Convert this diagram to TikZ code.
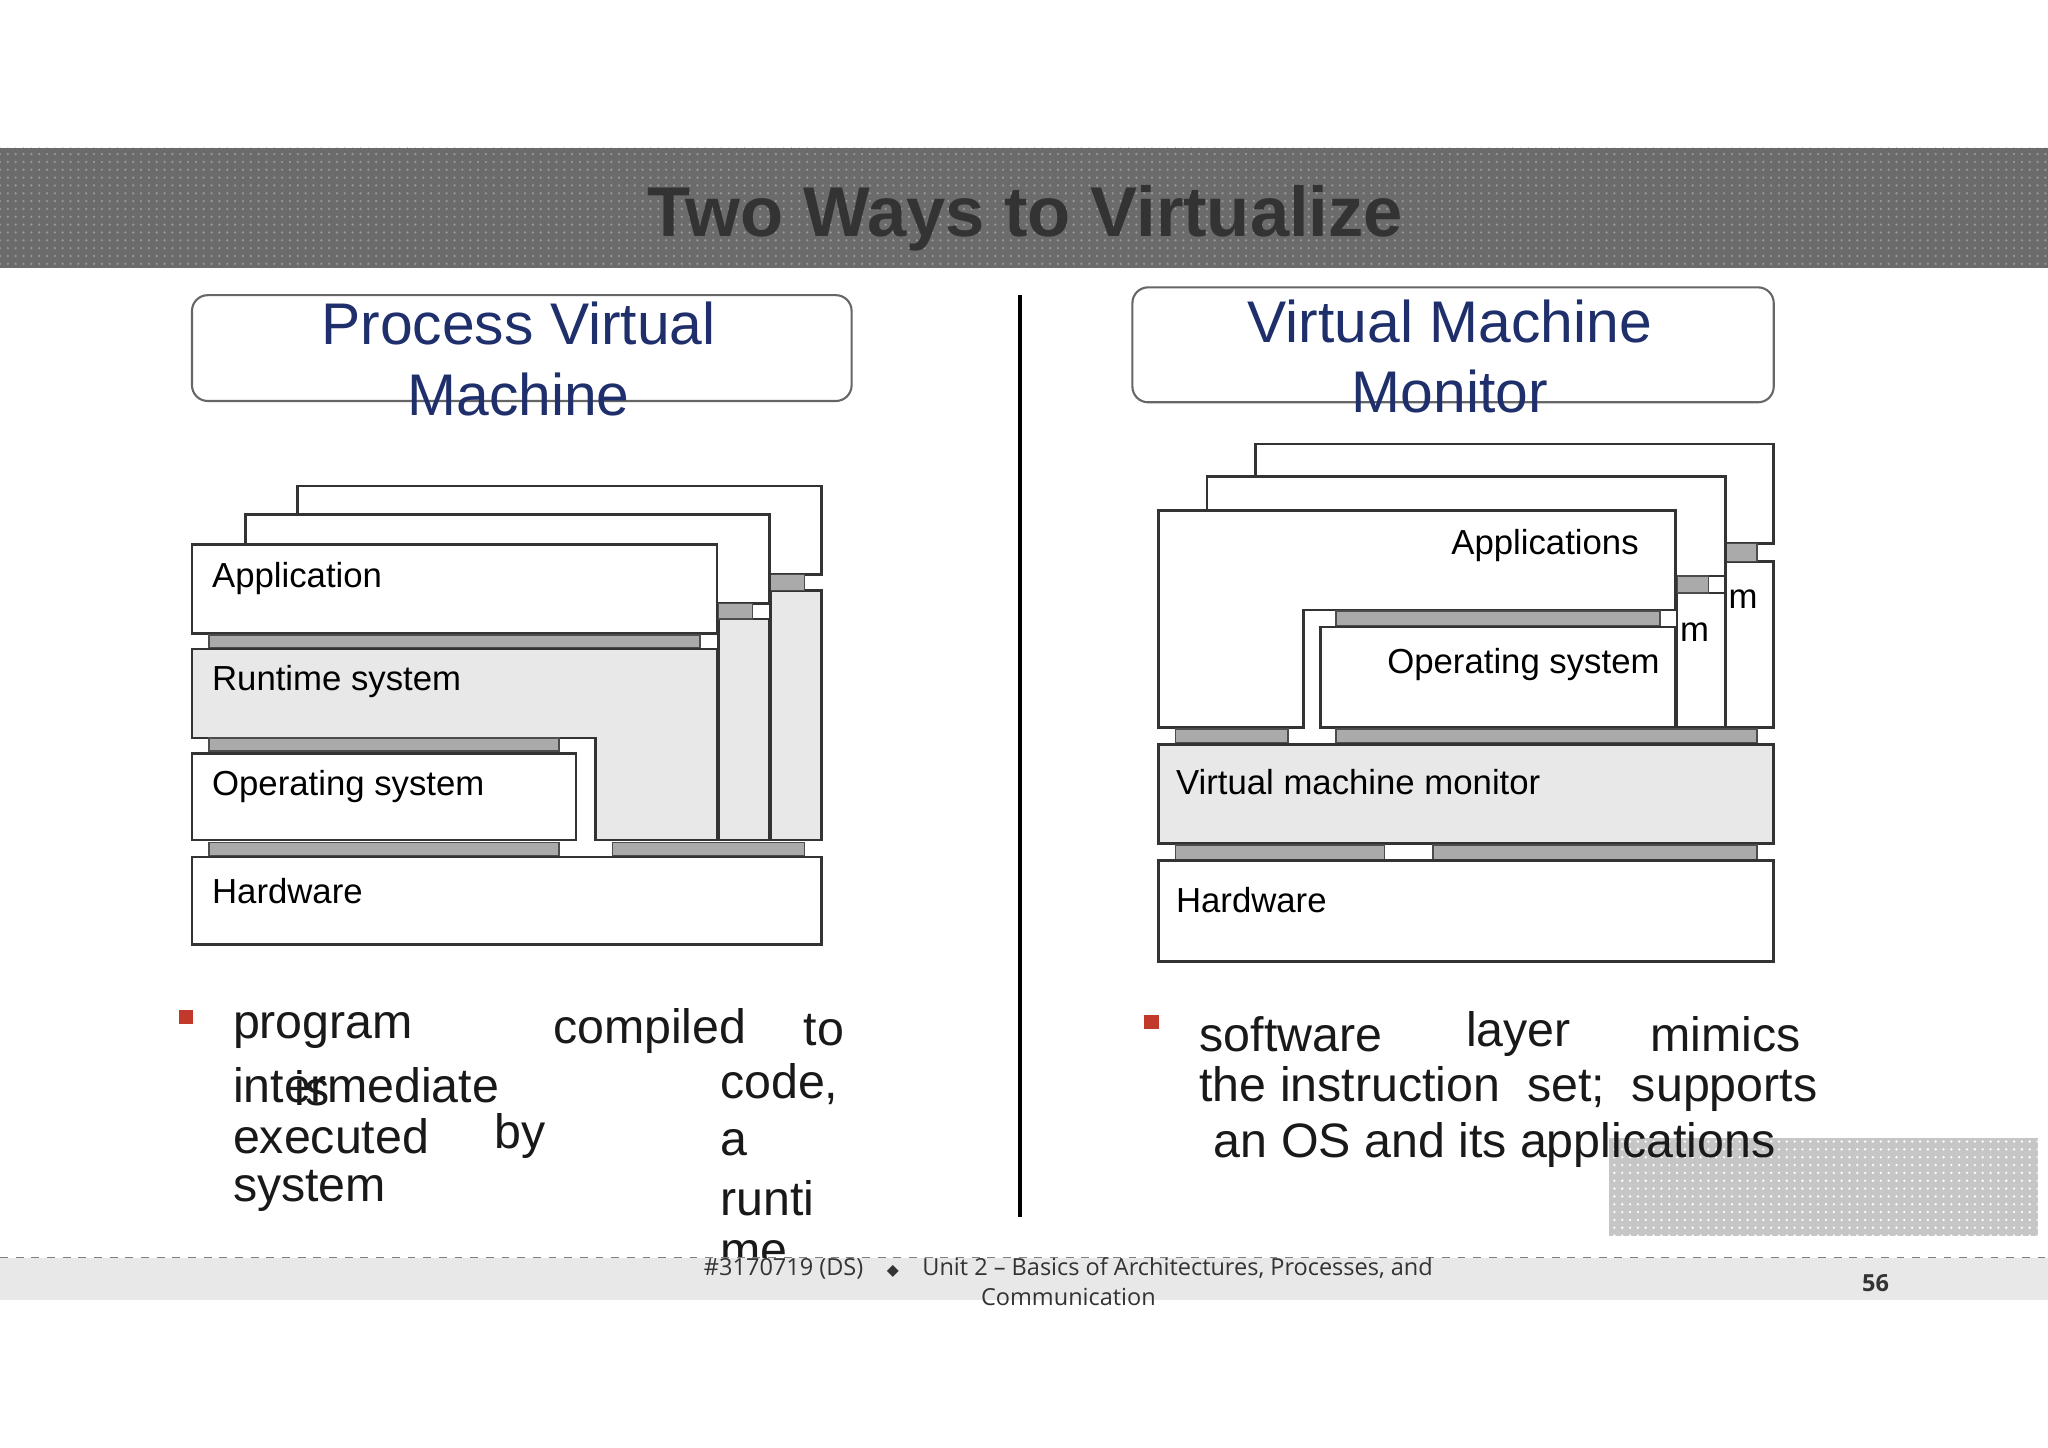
\documentclass[tikz,border=0pt]{standalone}
\usepackage{fontspec}
\setmainfont{Liberation Sans}
\newfontfamily\foot{Open Sans}
\newfontfamily\dejavu{DejaVu Sans}
\usetikzlibrary{patterns}
\definecolor{hdr}{HTML}{6B6B6B}
\definecolor{ttl}{HTML}{333333}
\definecolor{blu}{HTML}{1F2F6B}
\definecolor{lg}{HTML}{E8E8E8}
\definecolor{sg}{HTML}{AAAAAA}
\definecolor{red}{HTML}{C0392B}
\tikzset{lay/.style={draw=black!80,line width=1pt,fill=white},
 glay/.style={draw=black!80,line width=1pt,fill=lg},
 strip/.style={draw=black!70,line width=0.6pt,fill=sg},
 lbl/.style={anchor=west,font=\fontsize{13.3}{15}\selectfont,inner sep=0pt},
 btxt/.style={anchor=west,font=\fontsize{18.5}{21}\selectfont,inner sep=0pt,text=black!90},
 tbox/.style={draw=black!60,line width=0.8pt,rounded corners=6pt,fill=white}}
\begin{document}
\begin{tikzpicture}[x=0.5pt,y=-0.5pt]
\useasboundingbox (0,0) rectangle (1568,1108);
\fill[white] (0,0) rectangle (1568,1108);
% header
\fill[hdr] (0,113) rectangle (1568,205);
\fill[pattern=dots,pattern color=white!30!hdr] (0,113) rectangle (1568,205);
\node[font=\bfseries\fontsize{27}{30}\selectfont,text=ttl] (title) at (785,167) {Two Ways to Virtualize};
% title boxes
\draw[tbox] (147,226) rectangle (652,307);
\node[align=center,font=\fontsize{22.5}{27}\selectfont,text=blu] (pvm) at (397,275) {Process Virtual\\Machine};
\draw[tbox] (867,220) rectangle (1358,308);
\node[align=center,font=\fontsize{22.5}{27}\selectfont,text=blu] (vmm) at (1110,273) {Virtual Machine\\Monitor};
\coordinate (vt) at (781,226); \coordinate (vb) at (781,932);
\draw[line width=1.3pt] (vt) -- (vb);
% left diagram
\draw[lay] (228,372) rectangle (629,440);
\draw[glay] (590,452) rectangle (629,643);
\draw[strip] (590,440) rectangle (616,452);
\draw[lay] (188,394) rectangle (589,462);
\draw[glay] (550,474) rectangle (589,643);
\draw[strip] (550,462) rectangle (576,474);
\draw[lay] (147,417) rectangle (549,485);
\node[lbl] (app) at (162,443) {Application};
\draw[strip] (160,486) rectangle (536,496);
\draw[glay] (147,497) -- (549,497) -- (549,643) -- (456,643) -- (456,565) -- (147,565) -- cycle;
\node[lbl] (rt) at (162,522) {Runtime system};
\draw[strip] (160,565) rectangle (428,575);
\draw[lay] (147,577) rectangle (441,643);
\node[lbl] (os) at (162,602) {Operating system};
\draw[strip] (160,645) rectangle (428,655);
\draw[strip] (469,645) rectangle (616,655);
\draw[lay] (147,656) rectangle (629,723);
\node[lbl] (hw) at (162,682) {Hardware};
% right diagram
\draw[lay] (961,340) rectangle (1358,416);
\draw[lay] (1321,430) rectangle (1358,557);
\draw[strip] (1321,416) rectangle (1345,430);
\node[lbl] (m1) at (1323,459) {m};
\draw[lay] (924,365) rectangle (1321,441);
\draw[lay] (1284,454) rectangle (1321,557);
\draw[strip] (1284,441) rectangle (1308,454);
\node[lbl] (m2) at (1286,484) {m};
\draw[lay] (887,391) -- (1283,391) -- (1283,467) -- (998,467) -- (998,557) -- (887,557) -- cycle;
\node[lbl,anchor=east] (apps) at (1255,418) {Applications};
\draw[strip] (1023,468) rectangle (1271,479);
\draw[lay] (1011,480) rectangle (1283,557);
\node[lbl,anchor=east] (os2) at (1271,509) {Operating system};
\draw[strip] (900,558) rectangle (986,569);
\draw[strip] (1023,558) rectangle (1345,569);
\draw[glay] (887,570) rectangle (1358,646);
\node[lbl] (vmmt) at (900,599) {Virtual machine monitor};
\draw[strip] (900,647) rectangle (1060,658);
\draw[strip] (1097,647) rectangle (1345,658);
\draw[lay] (887,659) rectangle (1358,736);
\node[lbl] (hw2) at (900,689) {Hardware};
% speckle box
\fill[gray!45] (1232,871) rectangle (1560,946);
\fill[pattern=dots,pattern color=white] (1232,871) rectangle (1560,946);
% bullets
\fill[red] (137,773) rectangle (148,784);
\node[btxt] (b1) at (178,789) {program};
\node[btxt] (b2) at (423,789) {compiled};
\node[btxt] (b3) at (615,789) {to};
\node[btxt] (b4) at (178,831) {intermediate};
\node[btxt] (b5) at (225,833) {is};
\node[btxt] (b6) at (551,830) {code,};
\node[btxt] (b7) at (178,870) {executed};
\node[btxt] (b8) at (378,870) {by};
\node[btxt] (b9) at (551,875) {a};
\node[btxt] (b10) at (178,912) {system};
\node[btxt] (b11) at (551,917) {runti};
\node[btxt] (b12) at (551,960) {me};
\fill[red] (876,777) rectangle (887,788);
\node[btxt] (c1) at (918,792) {software};
\node[btxt] (c2) at (1122,792) {layer};
\node[btxt] (c3) at (1263,792) {mimics};
\node[btxt] (c4) at (918,834) {the instruction\ \ set;\ \ supports};
\node[btxt] (c5) at (929,877) {an OS and its applications};
% footer
\fill[lg] (0,963) rectangle (1568,995);
\draw[gray,dashed,line width=0.5pt] (0,963) -- (1568,963);
\node[font=\foot\fontsize{9}{11.5}\selectfont,align=center,text=black!80] (ft) at (818,981) {\#3170719 (DS)\quad{\dejavu\fontsize{6}{7}\selectfont ◆}\quad Unit 2 – Basics of Architectures, Processes, and\\Communication};
\node[font=\foot\bfseries\fontsize{9}{11}\selectfont,text=black!80] (pg) at (1436,982) {56};
\end{tikzpicture}
\end{document}
